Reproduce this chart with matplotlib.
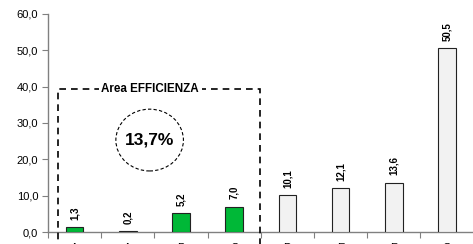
import matplotlib
matplotlib.use("Agg")
import matplotlib.pyplot as plt
from matplotlib.patches import Rectangle, Ellipse

categories = ["A", "A", "B", "C", "D", "E", "F", "G"]
values = [1.3, 0.2, 5.2, 7.0, 10.1, 12.1, 13.6, 50.5]
efficient = [True, True, True, True, False, False, False, False]
area_label = "Area EFFICIENZA"
area_share = "13,7%"

GREEN, LIGHT, GRAY = "#00B837", "#F2F2F2", "#808080"
FONT = "Liberation Sans"

fig = plt.figure(figsize=(4.73, 2.44), dpi=100)
ax = fig.add_axes([0.1015, 0.049, 0.9, 0.894])

x = list(range(len(values)))
colors = [GREEN if e else LIGHT for e in efficient]
ax.bar(x, values, width=0.33, color=colors, edgecolor="#222222", lw=0.8, zorder=3)
for xi, v in zip(x, values):
    ax.text(xi, v + 2.0, f"{v:.1f}".replace(".", ","), rotation=90, ha="center", va="bottom",
            fontsize=7, weight="bold", family=FONT)

ax.set_xlim(-0.5, 7.5)
ax.set_ylim(0, 60)
ax.set_yticks(range(0, 61, 10))
ax.set_yticklabels([f"{t},0" for t in range(0, 61, 10)], fontsize=8, family=FONT)
ax.set_xticks([i + 0.5 for i in range(-1, 8)])
ax.set_xticklabels([""] * 9)
ax.set_xticks(x, minor=True)
ax.set_xticklabels(categories, minor=True, fontsize=8, family=FONT)
ax.tick_params(axis="x", which="minor", length=0, pad=8)
ax.tick_params(axis="x", which="major", length=4, color=GRAY, direction="out")
ax.tick_params(axis="y", length=4, color=GRAY, pad=3)
for s in ("top", "right"):
    ax.spines[s].set_visible(False)
for s in ("left", "bottom"):
    ax.spines[s].set_color(GRAY)
    ax.spines[s].set_linewidth(1.0)

# dashed efficiency area
ax.add_patch(Rectangle((-0.31, -6), 3.79, 45.4, fill=False, ls=(0, (4, 3)), lw=1.2,
                       ec="black", clip_on=False, zorder=4))
ax.text(1.42, 39.4, area_label, ha="center", va="center", fontsize=8.4, weight="bold",
        family=FONT, zorder=5, bbox=dict(fc="white", ec="none", pad=2))
ax.add_patch(Ellipse((1.41, 25.3), 1.27, 17.0, fill=False, ls=(0, (3, 2)), lw=0.8, ec="black"))
ax.text(1.41, 25.3, area_share, ha="center", va="center", fontsize=12.5, weight="bold",
        family=FONT)

fig.savefig("out.png", dpi=100, facecolor="white")
